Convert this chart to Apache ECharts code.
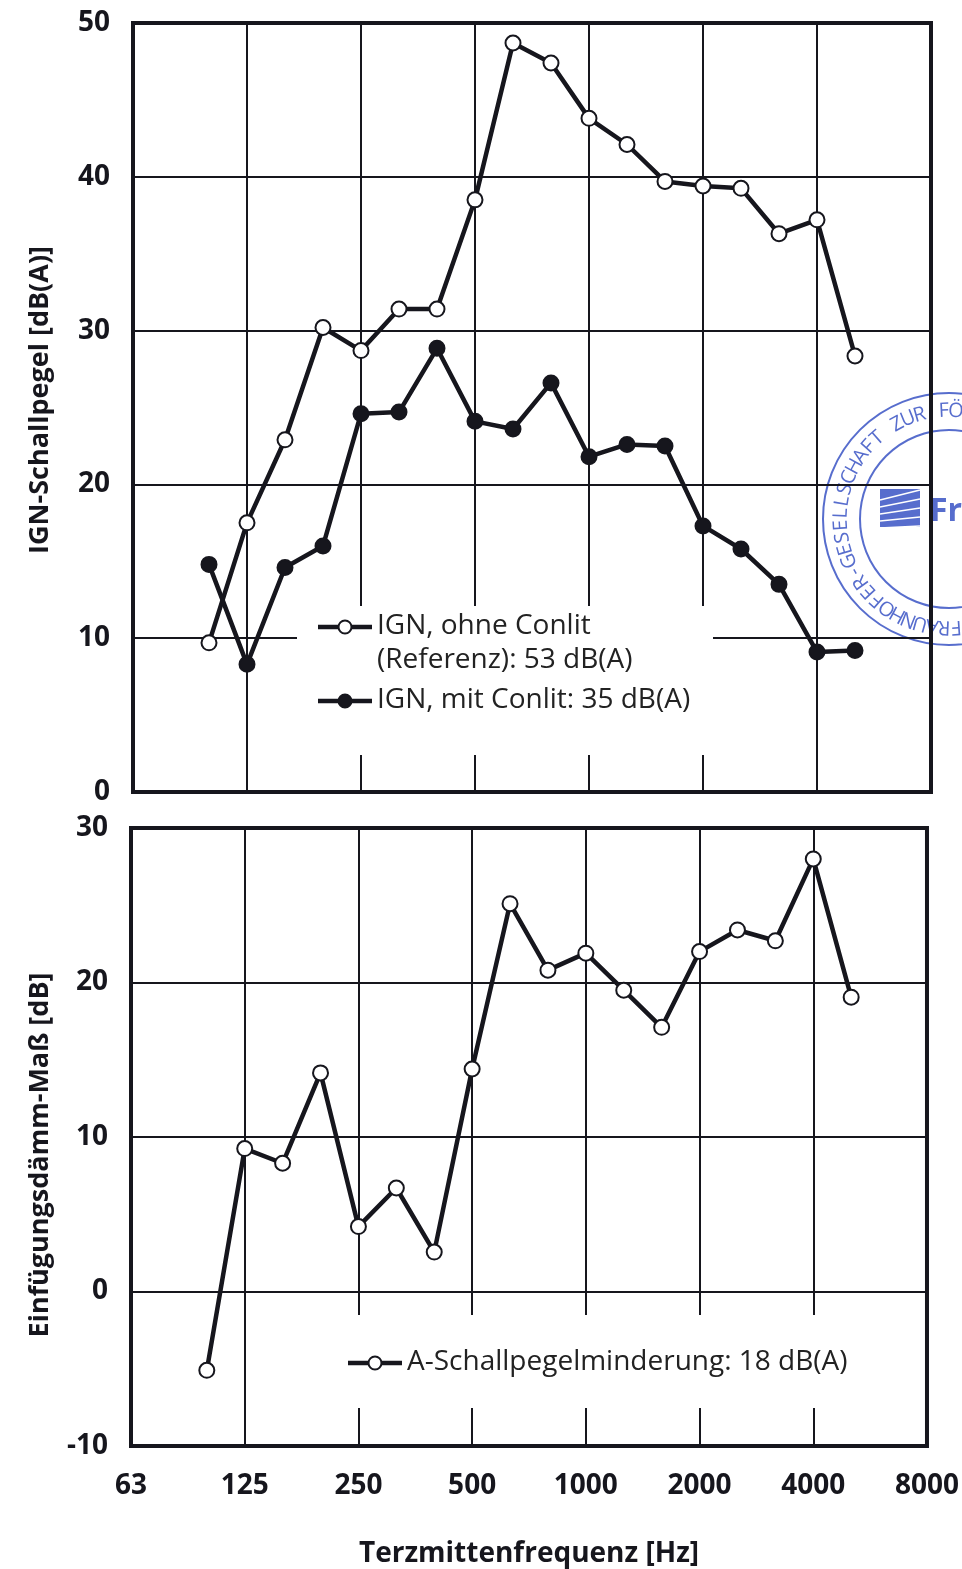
<!DOCTYPE html>
<html>
<head>
<meta charset="utf-8">
<script src="https://cdn.jsdelivr.net/npm/echarts@6/dist/echarts.min.js"></script>
<style>
  html, body { margin: 0; padding: 0; background: #ffffff; }
  #chart { width: 962px; height: 1569px; }
</style>
</head>
<body>
<div id="chart"></div>
<script>
// Third-octave band centre frequencies spanning the frequency axis [Hz]
const bands = ['63', '80', '100', '125', '160', '200', '250', '315', '400', '500', '630',
  '800', '1000', '1250', '1600', '2000', '2500', '3150', '4000', '5000', '6300', '8000'];

// Bands with measured values
const measuredBands = ['100', '125', '160', '200', '250', '315', '400', '500', '630',
  '800', '1000', '1250', '1600', '2000', '2500', '3150', '4000', '5000'];

// IGN sound level without Conlit (reference) [dB(A)]
const levelWithout = [9.7, 17.5, 22.9, 30.2, 28.7, 31.4, 31.4, 38.5, 48.7,
  47.4, 43.8, 42.1, 39.7, 39.4, 39.25, 36.3, 37.2, 28.35];

// IGN sound level with Conlit [dB(A)]
const levelWith = [14.8, 8.3, 14.6, 16.0, 24.6, 24.7, 28.85, 24.1, 23.6,
  26.6, 21.8, 22.6, 22.5, 17.3, 15.8, 13.5, 9.1, 9.2];

// Insertion loss [dB]
const insertionLoss = [-5.1, 9.25, 8.3, 14.15, 4.2, 6.7, 2.55, 14.4, 25.1,
  20.8, 21.9, 19.5, 17.1, 22.0, 23.4, 22.7, 28.0, 19.05];

// Value ranges of the two panels
const levelAxis = { min: 0, max: 50, step: 10 };
const lossAxis = { min: -10, max: 30, step: 10 };

// Legend texts
const legendTop = [
  ['IGN, ohne Conlit', '(Referenz): 53 dB(A)'],
  ['IGN, mit Conlit: 35 dB(A)']
];
const legendBottom = 'A-Schallpegelminderung: 18 dB(A)';

const ink = '#16161d';
const labelFont = "'Open Sans', 'Noto Sans', sans-serif";

// Spread measured values over the full band list (unmeasured bands stay empty)
function onBands(values) {
  return bands.map(b => {
    const i = measuredBands.indexOf(b);
    return i < 0 ? null : values[i];
  });
}

function xAxisFor(gridIndex, withLabels) {
  return {
    type: 'category',
    gridIndex: gridIndex,
    data: bands,
    boundaryGap: false,
    axisLine: { show: false },
    axisTick: { show: false },
    axisLabel: {
      show: withLabels,
      interval: 2,
      margin: 26,
      color: ink,
      fontFamily: labelFont,
      fontWeight: 'bold',
      fontSize: 28
    },
    splitLine: { show: true, interval: 2, lineStyle: { color: ink, width: 2 } }
  };
}

function yAxisFor(gridIndex, range) {
  return {
    type: 'value',
    gridIndex: gridIndex,
    min: range.min,
    max: range.max,
    interval: range.step,
    axisLine: { show: false },
    axisTick: { show: false },
    axisLabel: {
      margin: 23,
      color: ink,
      fontFamily: labelFont,
      fontWeight: 'bold',
      fontSize: 28
    },
    splitLine: { show: true, lineStyle: { color: ink, width: 2 } }
  };
}

function lineSeries(name, values, xi, yi, filled) {
  return {
    name: name,
    type: 'line',
    xAxisIndex: xi,
    yAxisIndex: yi,
    data: onBands(values),
    symbol: 'circle',
    symbolSize: 15,
    z: 5,
    lineStyle: { color: ink, width: 4.5 },
    itemStyle: { color: filled ? ink : '#ffffff', borderColor: ink, borderWidth: 2 }
  };
}

// ---- legend drawings -------------------------------------------------------
function legendKey(cx, cy, filled) {
  return [
    { type: 'line', z: 20, shape: { x1: cx - 27, y1: cy, x2: cx + 27, y2: cy },
      style: { stroke: ink, lineWidth: 4.5 } },
    { type: 'circle', z: 21, shape: { cx: cx, cy: cy, r: 6.5 },
      style: { fill: filled ? ink : '#ffffff', stroke: ink, lineWidth: 2 } }
  ];
}
function legendText(x, y, text) {
  return { type: 'text', z: 21, x: x, y: y,
    style: { text: text, fill: '#222222', font: "28px 'Open Sans', 'Noto Sans', sans-serif",
      align: 'left', verticalAlign: 'middle' } };
}

const graphics = [];
// top legend
graphics.push({ type: 'rect', z: 15, shape: { x: 297, y: 606, width: 416, height: 149 },
  style: { fill: '#ffffff' } });
graphics.push(...legendKey(345, 627, false));
graphics.push(legendText(377, 626, legendTop[0][0]));
graphics.push(legendText(377, 660, legendTop[0][1]));
graphics.push(...legendKey(345, 701, true));
graphics.push(legendText(377, 700, legendTop[1][0]));
// bottom legend
graphics.push({ type: 'rect', z: 15, shape: { x: 340, y: 1315, width: 510, height: 93 },
  style: { fill: '#ffffff' } });
graphics.push(...legendKey(375, 1363, false));
graphics.push(legendText(407, 1362, legendBottom));

// y axis titles
graphics.push({ type: 'text', z: 20, x: 40, y: 400, rotation: Math.PI / 2,
  style: { text: 'IGN-Schallpegel [dB(A)]', fill: ink, font: 'bold 27px ' + labelFont,
    align: 'center', verticalAlign: 'middle' } });
graphics.push({ type: 'text', z: 20, x: 40, y: 1155, rotation: Math.PI / 2,
  style: { text: 'Einfügungsdämm-Maß [dB]', fill: ink, font: 'bold 27px ' + labelFont,
    align: 'center', verticalAlign: 'middle' } });

// ---- institute stamp ---------------------------------------------------------
const stampColor = 'rgba(58, 84, 196, 0.85)';
const stampCx = 949, stampCy = 519;
const stampRing = 'FRAUNHOFER-GESELLSCHAFT ZUR FÖRDERUNG DER ANGEWANDTEN';
const stampEls = [
  { type: 'circle', shape: { cx: stampCx, cy: stampCy, r: 126 },
    style: { fill: 'none', stroke: stampColor, lineWidth: 2 } },
  { type: 'circle', shape: { cx: stampCx, cy: stampCy, r: 89 },
    style: { fill: 'none', stroke: stampColor, lineWidth: 2 } }
];
{
  const r = 108, startDeg = 86, stepPx = 12.2;
  for (let i = 0; i < stampRing.length; i++) {
    const a = (startDeg * Math.PI / 180) + i * stepPx / r;
    stampEls.push({
      type: 'text',
      x: stampCx + r * Math.cos(a),
      y: stampCy + r * Math.sin(a),
      rotation: -(a + Math.PI / 2),
      style: { text: stampRing[i], fill: stampColor, font: "20px 'Open Sans', sans-serif",
        align: 'center', verticalAlign: 'middle' }
    });
  }
}
// logo square with stripes
stampEls.push({ type: 'rect', shape: { x: 880, y: 489, width: 40, height: 38 },
  style: { fill: stampColor } });
for (let k = 0; k < 5; k++) {
  stampEls.push({ type: 'line',
    shape: { x1: 880, y1: 500 + k * 7, x2: 920, y2: 490 + k * 9 },
    style: { stroke: '#ffffff', lineWidth: 1.5 } });
}
stampEls.push({ type: 'text', x: 930, y: 512,
  style: { text: 'Fraunhofer', fill: stampColor, font: "bold 32px 'Open Sans', sans-serif",
    align: 'left', verticalAlign: 'middle' } });
graphics.push({ type: 'group', z: 30, children: stampEls });

const chart = echarts.init(document.getElementById('chart'), null, { renderer: 'canvas' });
chart.setOption({
  animation: false,
  backgroundColor: '#ffffff',
  grid: [
    { left: 133, right: 31, top: 23, height: 769, show: true, borderColor: ink, borderWidth: 4, z: 3 },
    { left: 131, right: 34, top: 828, height: 619, show: true, borderColor: ink, borderWidth: 4, z: 3 }
  ],
  xAxis: [
    xAxisFor(0, false),
    Object.assign(xAxisFor(1, true), {
      name: 'Terzmittenfrequenz [Hz]',
      nameLocation: 'middle',
      nameGap: 94,
      nameTextStyle: { color: ink, fontFamily: labelFont, fontWeight: 'bold', fontSize: 28 }
    })
  ],
  yAxis: [yAxisFor(0, levelAxis), yAxisFor(1, lossAxis)],
  series: [
    lineSeries('IGN, ohne Conlit', levelWithout, 0, 0, false),
    lineSeries('IGN, mit Conlit', levelWith, 0, 0, true),
    lineSeries('A-Schallpegelminderung', insertionLoss, 1, 1, false)
  ],
  graphic: graphics
});
</script>
</body>
</html>
